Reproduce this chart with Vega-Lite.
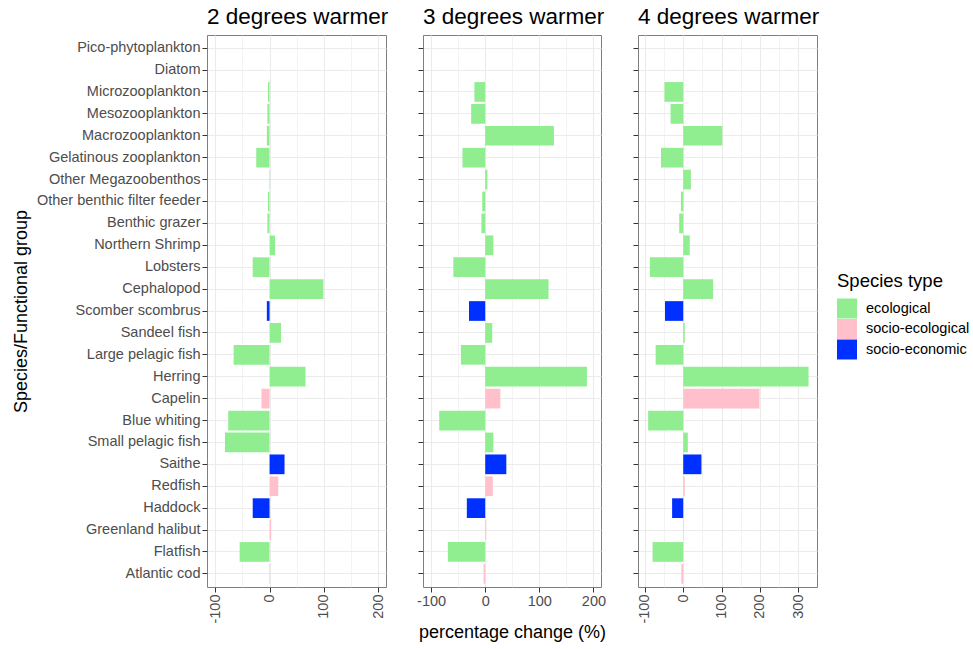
{
  "$schema": "https://vega.github.io/schema/vega-lite/v6.json",
  "padding": {"left": 11, "top": 5, "right": 0, "bottom": 5},
  "background": "white",
  "data": {"values": [
    {"species": "Pico-phytoplankton", "type": "ecological", "scenario": "2", "change": 0},
    {"species": "Diatom", "type": "ecological", "scenario": "2", "change": 0},
    {"species": "Microzooplankton", "type": "ecological", "scenario": "2", "change": -3},
    {"species": "Mesozooplankton", "type": "ecological", "scenario": "2", "change": -4},
    {"species": "Macrozooplankton", "type": "ecological", "scenario": "2", "change": -5},
    {"species": "Gelatinous zooplankton", "type": "ecological", "scenario": "2", "change": -24.5},
    {"species": "Other Megazoobenthos", "type": "ecological", "scenario": "2", "change": 1},
    {"species": "Other benthic filter feeder", "type": "ecological", "scenario": "2", "change": -3},
    {"species": "Benthic grazer", "type": "ecological", "scenario": "2", "change": -4},
    {"species": "Northern Shrimp", "type": "ecological", "scenario": "2", "change": 10},
    {"species": "Lobsters", "type": "ecological", "scenario": "2", "change": -31},
    {"species": "Cephalopod", "type": "ecological", "scenario": "2", "change": 99},
    {"species": "Scomber scombrus", "type": "socio-economic", "scenario": "2", "change": -5},
    {"species": "Sandeel fish", "type": "ecological", "scenario": "2", "change": 21},
    {"species": "Large pelagic fish", "type": "ecological", "scenario": "2", "change": -66},
    {"species": "Herring", "type": "ecological", "scenario": "2", "change": 66},
    {"species": "Capelin", "type": "socio-ecological", "scenario": "2", "change": -15},
    {"species": "Blue whiting", "type": "ecological", "scenario": "2", "change": -76},
    {"species": "Small pelagic fish", "type": "ecological", "scenario": "2", "change": -82},
    {"species": "Saithe", "type": "socio-economic", "scenario": "2", "change": 27.5},
    {"species": "Redfish", "type": "socio-ecological", "scenario": "2", "change": 16},
    {"species": "Haddock", "type": "socio-economic", "scenario": "2", "change": -31},
    {"species": "Greenland halibut", "type": "socio-ecological", "scenario": "2", "change": 3},
    {"species": "Flatfish", "type": "ecological", "scenario": "2", "change": -55},
    {"species": "Atlantic cod", "type": "socio-ecological", "scenario": "2", "change": -1},

    {"species": "Pico-phytoplankton", "type": "ecological", "scenario": "3", "change": 0},
    {"species": "Diatom", "type": "ecological", "scenario": "3", "change": 0},
    {"species": "Microzooplankton", "type": "ecological", "scenario": "3", "change": -20},
    {"species": "Mesozooplankton", "type": "ecological", "scenario": "3", "change": -26},
    {"species": "Macrozooplankton", "type": "ecological", "scenario": "3", "change": 127},
    {"species": "Gelatinous zooplankton", "type": "ecological", "scenario": "3", "change": -42},
    {"species": "Other Megazoobenthos", "type": "ecological", "scenario": "3", "change": 4},
    {"species": "Other benthic filter feeder", "type": "ecological", "scenario": "3", "change": -5.5},
    {"species": "Benthic grazer", "type": "ecological", "scenario": "3", "change": -7},
    {"species": "Northern Shrimp", "type": "ecological", "scenario": "3", "change": 15},
    {"species": "Lobsters", "type": "ecological", "scenario": "3", "change": -59},
    {"species": "Cephalopod", "type": "ecological", "scenario": "3", "change": 117},
    {"species": "Scomber scombrus", "type": "socio-economic", "scenario": "3", "change": -30},
    {"species": "Sandeel fish", "type": "ecological", "scenario": "3", "change": 13},
    {"species": "Large pelagic fish", "type": "ecological", "scenario": "3", "change": -45},
    {"species": "Herring", "type": "ecological", "scenario": "3", "change": 188},
    {"species": "Capelin", "type": "socio-ecological", "scenario": "3", "change": 28},
    {"species": "Blue whiting", "type": "ecological", "scenario": "3", "change": -85},
    {"species": "Small pelagic fish", "type": "ecological", "scenario": "3", "change": 15},
    {"species": "Saithe", "type": "socio-economic", "scenario": "3", "change": 39},
    {"species": "Redfish", "type": "socio-ecological", "scenario": "3", "change": 14},
    {"species": "Haddock", "type": "socio-economic", "scenario": "3", "change": -34},
    {"species": "Greenland halibut", "type": "socio-ecological", "scenario": "3", "change": 2},
    {"species": "Flatfish", "type": "ecological", "scenario": "3", "change": -69},
    {"species": "Atlantic cod", "type": "socio-ecological", "scenario": "3", "change": -3},

    {"species": "Pico-phytoplankton", "type": "ecological", "scenario": "4", "change": 0},
    {"species": "Diatom", "type": "ecological", "scenario": "4", "change": 0},
    {"species": "Microzooplankton", "type": "ecological", "scenario": "4", "change": -49},
    {"species": "Mesozooplankton", "type": "ecological", "scenario": "4", "change": -33},
    {"species": "Macrozooplankton", "type": "ecological", "scenario": "4", "change": 102},
    {"species": "Gelatinous zooplankton", "type": "ecological", "scenario": "4", "change": -58},
    {"species": "Other Megazoobenthos", "type": "ecological", "scenario": "4", "change": 20},
    {"species": "Other benthic filter feeder", "type": "ecological", "scenario": "4", "change": -6},
    {"species": "Benthic grazer", "type": "ecological", "scenario": "4", "change": -10.5},
    {"species": "Northern Shrimp", "type": "ecological", "scenario": "4", "change": 17},
    {"species": "Lobsters", "type": "ecological", "scenario": "4", "change": -87},
    {"species": "Cephalopod", "type": "ecological", "scenario": "4", "change": 78},
    {"species": "Scomber scombrus", "type": "socio-economic", "scenario": "4", "change": -47.5},
    {"species": "Sandeel fish", "type": "ecological", "scenario": "4", "change": 4},
    {"species": "Large pelagic fish", "type": "ecological", "scenario": "4", "change": -72},
    {"species": "Herring", "type": "ecological", "scenario": "4", "change": 327},
    {"species": "Capelin", "type": "socio-ecological", "scenario": "4", "change": 199},
    {"species": "Blue whiting", "type": "ecological", "scenario": "4", "change": -91.5},
    {"species": "Small pelagic fish", "type": "ecological", "scenario": "4", "change": 12},
    {"species": "Saithe", "type": "socio-economic", "scenario": "4", "change": 47.5},
    {"species": "Redfish", "type": "socio-ecological", "scenario": "4", "change": 4},
    {"species": "Haddock", "type": "socio-economic", "scenario": "4", "change": -29},
    {"species": "Greenland halibut", "type": "socio-ecological", "scenario": "4", "change": 1},
    {"species": "Flatfish", "type": "ecological", "scenario": "4", "change": -80},
    {"species": "Atlantic cod", "type": "socio-ecological", "scenario": "4", "change": -5}
  ]},
  "spacing": 37,
  "bounds": "flush",
  "resolve": {"scale": {"x": "independent", "y": "shared", "color": "shared"}, "axis": {"x": "independent", "y": "independent"}},
  "hconcat": [
    {
      "width": 179, "height": 552,
      "title": {"text": "2 degrees warmer", "frame": "group"},
      "transform": [{"filter": "datum.scenario === '2'"}],
      "mark": {"type": "bar"},
      "encoding": {
        "y": {"field": "species", "type": "nominal", "sort": null,
          "scale": {"paddingInner": 0.1, "paddingOuter": 0.15},
          "axis": {"title": "Species/Functional group", "labels": true}},
        "x": {"field": "change", "type": "quantitative",
          "scale": {"domain": [-115, 214], "nice": false},
          "axis": {"values": [-100, -50, 0, 50, 100, 150, 200], "labelAngle": -90, "title": null,
            "labelExpr": "datum.value % 100 === 0 ? '' + datum.value : ''",
            "tickOpacity": {"condition": {"test": "datum.value % 100 !== 0", "value": 0}, "value": 1},
            "gridWidth": {"condition": {"test": "datum.value % 100 !== 0", "value": 0.6}, "value": 1.1}}},
        "color": {"field": "type", "type": "nominal", "title": "Species type",
          "scale": {"domain": ["ecological", "socio-ecological", "socio-economic"], "range": ["#90EE90", "#FFC0CB", "#0030FF"]}}
      }
    },
    {
      "width": 178, "height": 552,
      "title": {"text": "3 degrees warmer", "frame": "group"},
      "transform": [{"filter": "datum.scenario === '3'"}],
      "mark": {"type": "bar"},
      "encoding": {
        "y": {"field": "species", "type": "nominal", "sort": null,
          "scale": {"paddingInner": 0.1, "paddingOuter": 0.15},
          "axis": {"title": null, "labels": false}},
        "x": {"field": "change", "type": "quantitative",
          "scale": {"domain": [-115, 214], "nice": false},
          "axis": {"values": [-100, -50, 0, 50, 100, 150, 200], "labelAngle": 0, "title": "percentage change (%)",
            "labelExpr": "datum.value % 100 === 0 ? '' + datum.value : ''",
            "tickOpacity": {"condition": {"test": "datum.value % 100 !== 0", "value": 0}, "value": 1},
            "gridWidth": {"condition": {"test": "datum.value % 100 !== 0", "value": 0.6}, "value": 1.1},
            "titlePadding": 16}},
        "color": {"field": "type", "type": "nominal", "title": "Species type"}
      }
    },
    {
      "width": 179, "height": 552,
      "title": {"text": "4 degrees warmer", "frame": "group"},
      "transform": [{"filter": "datum.scenario === '4'"}],
      "mark": {"type": "bar"},
      "encoding": {
        "y": {"field": "species", "type": "nominal", "sort": null,
          "scale": {"paddingInner": 0.1, "paddingOuter": 0.15},
          "axis": {"title": null, "labels": false}},
        "x": {"field": "change", "type": "quantitative",
          "scale": {"domain": [-118, 349], "nice": false},
          "axis": {"values": [-100, -50, 0, 50, 100, 150, 200, 250, 300], "labelAngle": -90, "title": null,
            "labelExpr": "datum.value % 100 === 0 ? '' + datum.value : ''",
            "tickOpacity": {"condition": {"test": "datum.value % 100 !== 0", "value": 0}, "value": 1},
            "gridWidth": {"condition": {"test": "datum.value % 100 !== 0", "value": 0.6}, "value": 1.1}}},
        "color": {"field": "type", "type": "nominal", "title": "Species type"}
      }
    }
  ],
  "config": {
    "font": "Liberation Sans",
    "view": {"stroke": "#7f7f7f", "strokeWidth": 1},
    "title": {"fontSize": 22.5, "fontWeight": "normal", "color": "#000000", "anchor": "start", "offset": 7},
    "axis": {
      "domain": false,
      "grid": true,
      "gridColor": "#ebebeb",
      "tickColor": "#333333",
      "tickSize": 5,
      "labelFontSize": 14.5,
      "labelColor": "#4d4d4d",
      "labelPadding": 2,
      "titleFontSize": 18,
      "titleFontWeight": "normal",
      "titleColor": "#000000",
      "titlePadding": 6
    },
    "legend": {
      "orient": "none",
      "legendX": 630,
      "legendY": 237,
      "titleFontSize": 18.5,
      "titleFontWeight": "normal",
      "titleColor": "#000000",
      "titlePadding": 8,
      "labelFontSize": 14.5,
      "labelColor": "#000000",
      "labelOffset": 9,
      "symbolType": "square",
      "symbolSize": 400,
      "symbolStrokeWidth": 0,
      "symbolOpacity": 1,
      "rowPadding": 0.5
    }
  }
}
